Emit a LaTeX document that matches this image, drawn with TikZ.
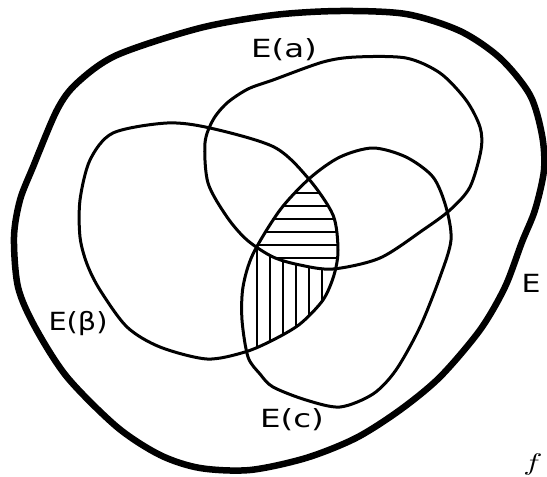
\documentclass[tikz,border=0pt]{standalone}
\usepackage{fontspec}
\newfontfamily\hand{DejaVu Sans}
\begin{document}
\begin{tikzpicture}[x=1pt,y=-1pt, line join=round, line cap=round,
  curve/.style={line width=3pt},
  outer/.style={line width=6.5pt},
  hatch/.style={line width=1.2pt},
  lbl/.style={font=\hand\fontsize{25}{25}\selectfont, inner sep=0pt}]
\useasboundingbox (0,0) rectangle (547,477);
\def\Opath{plot[smooth cycle] coordinates {(274,15) (340,11) (406,14) (460,31) (500,58) (530,95) (542,135) (544,170) (535,210) (522,242) (505,287) (480,330) (440,377) (400,410) (356,438) (306,458) (250,470) (200,468) (160,455) (117,427) (67,377) (35,327) (18,287) (14,237) (20,200) (33,167) (57,110) (77,83) (117,55) (200,28)}}
\def\Apath{plot[smooth cycle] coordinates {(273,80) (323,62) (356,57) (406,58) (440,73) (466,100) (480,127) (481,150) (470,187) (450,210) (423,230) (380,258) (333,269) (300,265) (273,257) (247,240) (227,217) (208,183) (205,143) (213,120) (227,103) (248,89)}}
\def\Bpath{plot[smooth cycle] coordinates {(308,178) (333,215) (338,250) (334,275) (323,300) (300,324) (273,340) (245,352) (207,359) (160,347) (127,327) (100,290) (87,264) (80,237) (80,200) (90,160) (113,133) (167,123) (210,128) (274,147)}}
\def\Cpath{plot[smooth cycle] coordinates {(310,178) (340,157) (373,148) (406,157) (433,177) (446,207) (451,240) (440,277) (420,327) (396,370) (373,394) (340,407) (306,400) (273,387) (260,374) (248,357) (242,320) (243,287) (253,254) (280,210)}}
% hatching: triple intersection (horizontal)
\begin{scope}
  \clip \Apath; \clip \Bpath; \clip \Cpath;
  \foreach \y in {193,206,...,260} \draw[hatch] (230,\y) -- (350,\y);
\end{scope}
% hatching: B and C outside A (vertical)
\begin{scope}[even odd rule]
  \clip \Bpath; \clip \Cpath;
  \clip (0,0) rectangle (547,477) \Apath;
  \foreach \x in {257,270,...,325} \draw[hatch] (\x,240) -- (\x,380);
\end{scope}
\draw[outer] \Opath;
\draw[curve] \Apath;
\draw[curve] \Bpath;
\draw[curve] \Cpath;
\node[lbl] (la) at (284,50) {\scalebox{1.3}[1]{E(a)}};
\node[lbl] (lb) at (78,324) {\scalebox{1.15}[1]{E(β)}};
\node[lbl] (lc) at (292,420) {\scalebox{1.3}[1]{E(c)}};
\node[lbl] (le) at (531,283) {\scalebox{1.2}[1]{E}};
\node[inner sep=0pt] (lf) at (533,464) {\scalebox{3.2}[2.4]{$f$}};
\end{tikzpicture}
\end{document}
